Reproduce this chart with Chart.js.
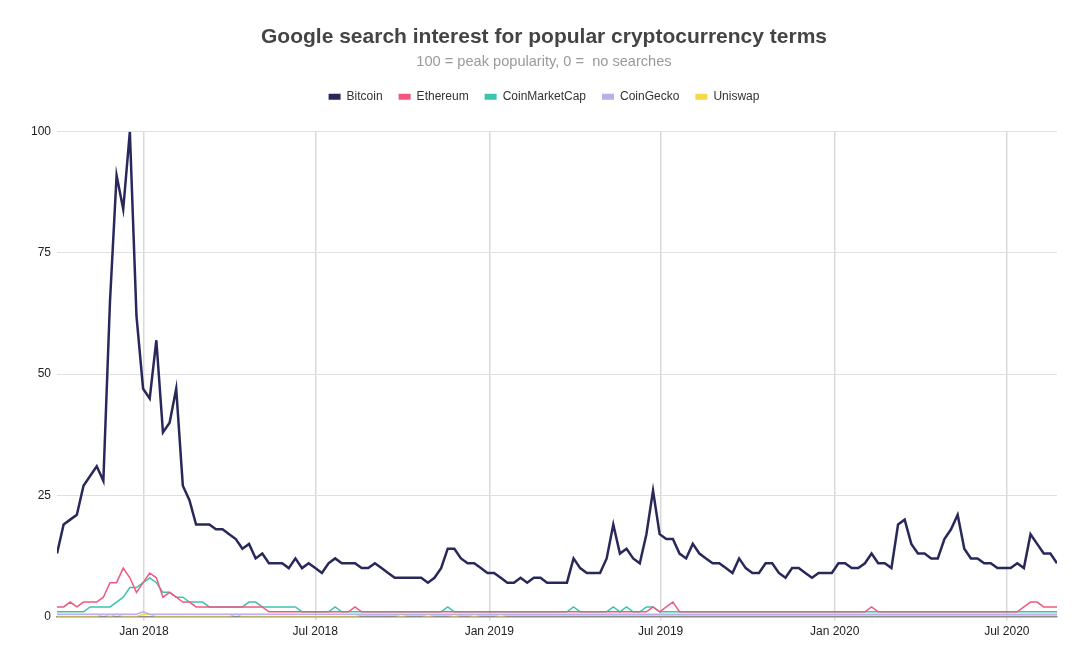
<!DOCTYPE html>
<html>
<head>
<meta charset="utf-8">
<title>Google search interest for popular cryptocurrency terms</title>
<script src="https://cdn.jsdelivr.net/npm/chart.js@4.4.1/dist/chart.umd.min.js"></script>
<style>
  html, body { margin: 0; padding: 0; background: #fff; }
  #wrap { width: 1080px; height: 651px; }
</style>
</head>
<body>
<div id="wrap"><canvas id="trendsChart"></canvas></div>
<script>
// weekly Google Trends values, first week starts Sunday 1 Oct 2017
const firstWeek = '2017-10-01';
const seriesNames = ['Bitcoin', 'Ethereum', 'CoinMarketCap', 'CoinGecko', 'Uniswap'];

const bitcoin = [
    13, 19, 20, 21, 27, 29, 31, 28, 65, 91,
    84, 100, 62, 47, 45, 57, 38, 40, 47, 27,
    24, 19, 19, 19, 18, 18, 17, 16, 14, 15,
    12, 13, 11, 11, 11, 10, 12, 10, 11, 10,
    9, 11, 12, 11, 11, 11, 10, 10, 11, 10,
    9, 8, 8, 8, 8, 8, 7, 8, 10, 14,
    14, 12, 11, 11, 10, 9, 9, 8, 7, 7,
    8, 7, 8, 8, 7, 7, 7, 7, 12, 10,
    9, 9, 9, 12, 19, 13, 14, 12, 11, 17,
    26, 17, 16, 16, 13, 12, 15, 13, 12, 11,
    11, 10, 9, 12, 10, 9, 9, 11, 11, 9,
    8, 10, 10, 9, 8, 9, 9, 9, 11, 11,
    10, 10, 11, 13, 11, 11, 10, 19, 20, 15,
    13, 13, 12, 12, 16, 18, 21, 14, 12, 12,
    11, 11, 10, 10, 10, 11, 10, 17, 15, 13,
    13, 11
];

const ethereum = [
    2, 2, 3, 2, 3, 3, 3, 4, 7, 7,
    10, 8, 5, 7, 9, 8, 4, 5, 4, 3,
    3, 2, 2, 2, 2, 2, 2, 2, 2, 2,
    2, 2, 1, 1, 1, 1, 1, 1, 1, 1,
    1, 1, 1, 1, 1, 2, 1, 1, 1, 1,
    1, 1, 1, 1, 1, 1, 1, 1, 1, 1,
    1, 1, 1, 1, 1, 1, 1, 1, 1, 1,
    1, 1, 1, 1, 1, 1, 1, 1, 1, 1,
    1, 1, 1, 1, 1, 1, 1, 1, 1, 1,
    2, 1, 2, 3, 1, 1, 1, 1, 1, 1,
    1, 1, 1, 1, 1, 1, 1, 1, 1, 1,
    1, 1, 1, 1, 1, 1, 1, 1, 1, 1,
    1, 1, 1, 2, 1, 1, 1, 1, 1, 1,
    1, 1, 1, 1, 1, 1, 1, 1, 1, 1,
    1, 1, 1, 1, 1, 1, 2, 3, 3, 2,
    2, 2
];

const coinMarketCap = [
    1, 1, 1, 1, 1, 2, 2, 2, 2, 3,
    4, 6, 6, 7, 8, 7, 5, 5, 4, 4,
    3, 3, 3, 2, 2, 2, 2, 2, 2, 3,
    3, 2, 2, 2, 2, 2, 2, 1, 1, 1,
    1, 1, 2, 1, 1, 1, 1, 1, 1, 1,
    1, 1, 1, 1, 1, 1, 1, 1, 1, 2,
    1, 1, 1, 1, 1, 1, 1, 1, 1, 1,
    1, 1, 1, 1, 1, 1, 1, 1, 2, 1,
    1, 1, 1, 1, 2, 1, 2, 1, 1, 2,
    2, 1, 1, 1, 1, 1, 1, 1, 1, 1,
    1, 1, 1, 1, 1, 1, 1, 1, 1, 1,
    1, 1, 1, 1, 1, 1, 1, 1, 1, 1,
    1, 1, 1, 1, 1, 1, 1, 1, 1, 1,
    1, 1, 1, 1, 1, 1, 1, 1, 1, 1,
    1, 1, 1, 1, 1, 1, 1, 1, 1, 1,
    1, 1
];

// "<1" weeks read as fractions of a point
const coinGecko = [
    0.5, 0.5, 0.5, 0.5, 0.5, 0.5, 0.5, 0.5, 0.5, 0.5,
    0.5, 0.5, 0.5, 1, 0.5, 0.5, 0.5, 0.5, 0.5, 0.5,
    0.5, 0.5, 0.5, 0.5, 0.5, 0.5, 0.5, 0.5, 0.5, 0.5,
    0.5, 0.5, 0.5, 0.5, 0.5, 0.5, 0.5, 0.5, 0.5, 0.5,
    0.5, 0.5, 0.5, 0.5, 0.5, 0.5, 0.5, 0.5, 0.5, 0.5,
    0.5, 0.5, 0.5, 0.5, 0.5, 0.5, 0.5, 0.5, 0.5, 0.5,
    0.5, 0.5, 0.5, 0.5, 0.5, 0.5, 0.5, 0.5, 0.5, 0.5,
    0.5, 0.5, 0.5, 0.5, 0.5, 0.5, 0.5, 0.5, 0.5, 0.5,
    0.5, 0.5, 0.5, 0.5, 0.5, 0.5, 0.5, 0.5, 0.5, 0.5,
    0.5, 0.5, 0.5, 0.5, 0.5, 0.5, 0.5, 0.5, 0.5, 0.5,
    0.5, 0.5, 0.5, 0.5, 0.5, 0.5, 0.5, 0.5, 0.5, 0.5,
    0.5, 0.5, 0.5, 0.5, 0.5, 0.5, 0.5, 0.5, 0.5, 0.5,
    0.5, 0.5, 0.5, 0.5, 0.5, 0.5, 0.5, 0.5, 0.5, 0.5,
    0.5, 0.5, 0.5, 0.5, 0.5, 0.5, 0.5, 0.5, 0.5, 0.5,
    0.5, 0.5, 0.5, 0.5, 0.5, 0.5, 0.5, 0.5, 0.5, 0.5,
    0.5, 0.5
];

const uniswap = [
    0, 0, 0, 0, 0, 0, 0, 0.5, 0, 0.5,
    0, 0, 0, 0.5, 0.5, 0, 0, 0, 0, 0,
    0, 0, 0, 0, 0, 0, 0, 0.5, 0, 0,
    0, 0, 0, 0, 0, 0, 0, 0, 0, 0,
    0, 0, 0, 0, 0, 0, 0.3, 0.3, 0.3, 0.3,
    0.3, 0.3, 0, 0.3, 0.3, 0.3, 0, 0.3, 0.3, 0.3,
    0, 0.3, 0.3, 0, 0.3, 0.3, 0.3, 0, 0.3, 0.3,
    0.3, 0.3, 0.3, 0.3, 0.3, 0.3, 0.3, 0.3, 0.3, 0.3,
    0.3, 0.3, 0.3, 0.3, 0.3, 0.3, 0.3, 0.3, 0.3, 0.3,
    0.3, 0.3, 0.3, 0.3, 0.3, 0.3, 0.3, 0.3, 0.3, 0.3,
    0.3, 0.3, 0.3, 0.3, 0.3, 0.3, 0.3, 0.3, 0.3, 0.3,
    0.3, 0.3, 0.3, 0.3, 0.3, 0.3, 0.3, 0.3, 0.3, 0.3,
    0.3, 0.3, 0.3, 0.3, 0.3, 0.3, 0.3, 0.3, 0.3, 0.3,
    0.3, 0.3, 0.3, 0.3, 0.3, 0.3, 0.3, 0.3, 0.3, 0.3,
    0.3, 0.3, 0.3, 0.3, 0.3, 0.3, 0.3, 0.3, 0.3, 0.3,
    0.3, 0.3
];

const xTickDates = ['2018-01-01', '2018-07-01', '2019-01-01', '2019-07-01', '2020-01-01', '2020-07-01'];
const xTickLabels = ['Jan 2018', 'Jul 2018', 'Jan 2019', 'Jul 2019', 'Jan 2020', 'Jul 2020'];

const DAY = 24 * 3600 * 1000;
const startTime = Date.parse(firstWeek);
const weekTimes = bitcoin.map((v, i) => startTime + i * 7 * DAY);
const tickTimes = xTickDates.map(d => Date.parse(d));

function toPoints(values) {
    return values.map((v, i) => ({ x: weekTimes[i], y: v }));
}

const colors = ['#29285b', '#f2587f', '#3cc3ae', '#b8b0e6', '#f6d84a'];
const widths = [2.5, 1.5, 1.5, 1.5, 1.5];
const allSeries = [bitcoin, ethereum, coinMarketCap, coinGecko, uniswap];

const datasets = allSeries.map((values, i) => ({
    label: seriesNames[i],
    data: toPoints(values),
    borderColor: colors[i],
    backgroundColor: colors[i],
    borderWidth: widths[i],
    pointRadius: 0,
    pointHoverRadius: 0,
    tension: 0,
    fill: false
}));

const fontFamily = "'Helvetica Neue', Helvetica, Arial, 'Liberation Sans', sans-serif";

new Chart(document.getElementById('trendsChart'), {
    type: 'line',
    data: { datasets: datasets },
    options: {
        responsive: true,
        maintainAspectRatio: false,
        animation: false,
        layout: { padding: { left: 8, right: 0, top: 0, bottom: 8 } },
        plugins: {
            title: {
                display: true,
                text: 'Google search interest for popular cryptocurrency terms',
                color: '#444',
                font: { family: fontFamily, size: 21, weight: 'bold' },
                padding: { top: 25, bottom: 0 }
            },
            subtitle: {
                display: true,
                text: '100 = peak popularity, 0 =  no searches',
                color: '#9a9a9a',
                font: { family: fontFamily, size: 14.6 },
                padding: { top: 3, bottom: 4 }
            },
            legend: {
                display: true,
                position: 'top',
                labels: {
                    boxWidth: 12,
                    boxHeight: 6,
                    padding: 16,
                    color: '#333',
                    font: { family: fontFamily, size: 12 },
                    generateLabels(chart) {
                        const items = Chart.defaults.plugins.legend.labels.generateLabels(chart);
                        items.forEach(it => { it.lineWidth = 0; });
                        return items;
                    }
                }
            },
            tooltip: { enabled: false }
        },
        scales: {
            x: {
                type: 'linear',
                min: weekTimes[0],
                max: weekTimes[weekTimes.length - 1],
                afterBuildTicks(scale) {
                    scale.ticks = tickTimes.map(t => ({ value: t }));
                },
                ticks: {
                    color: '#222',
                    padding: 4,
                    maxRotation: 0,
                    autoSkip: false,
                    font: { family: fontFamily, size: 12 },
                    callback(value) {
                        const idx = tickTimes.indexOf(value);
                        return idx >= 0 ? xTickLabels[idx] : '';
                    }
                },
                grid: { color: '#d9d9d9', lineWidth: 1.5, tickLength: 4 },
                border: { display: true, color: '#8c8c8c', width: 1.5 }
            },
            xTop: {
                type: 'linear',
                position: 'top',
                ticks: { display: false },
                grid: { display: false, drawTicks: false },
                border: { display: false },
                afterFit(scale) { scale.height = 19; }
            },
            y: {
                min: 0,
                max: 100,
                ticks: {
                    stepSize: 25,
                    color: '#222',
                    padding: 6,
                    font: { family: fontFamily, size: 12 }
                },
                grid: { color: '#e0e0e0', lineWidth: 1, drawTicks: false },
                border: { display: false },
                afterFit(scale) { scale.width = 49; }
            },
            yRight: {
                type: 'linear',
                position: 'right',
                ticks: { display: false },
                grid: { display: false, drawTicks: false },
                border: { display: false },
                afterFit(scale) { scale.width = 23; }
            }
        }
    }
});
</script>
</body>
</html>
